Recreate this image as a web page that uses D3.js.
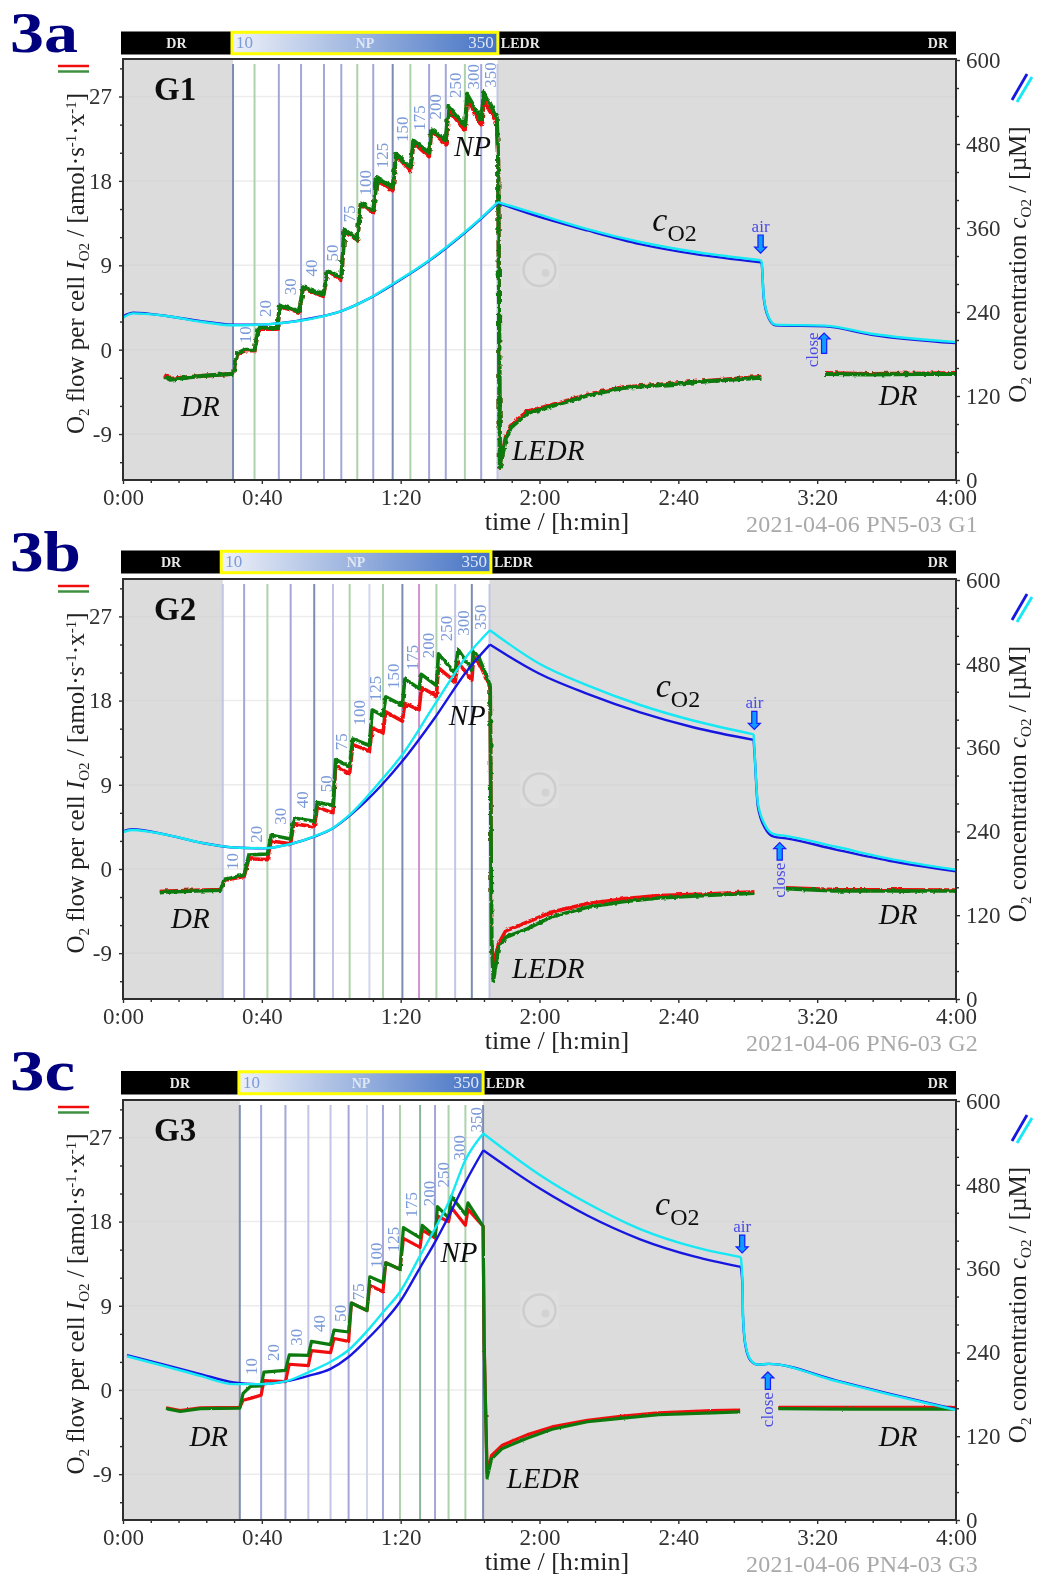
<!DOCTYPE html>
<html><head><meta charset="utf-8">
<script src="https://cdn.jsdelivr.net/npm/d3@7/dist/d3.min.js"></script>
<style>
html,body{margin:0;padding:0;background:#fff;width:1038px;height:1578px;overflow:hidden}
text{font-family:"Liberation Serif",serif}
</style></head><body>
<script>
// ---------- shared ticks ----------
const timeTicks=[0,40,80,120,160,200,240];
const timeMinor=[8,16,24,32,48,56,64,72,88,96,104,112,128,136,144,152,168,176,184,192,208,216,224,232];
const flowTicks=[-9,0,9,18,27];
const flowMinor=[-12,-6,-3,3,6,12,15,21,24,30];
const concTicks=[0,120,240,360,480,600];
const concMinor=[40,80,160,200,280,320,400,440,520,560];

// ---------- 3a / G1 ----------
const aFlowTime=[11.9,13.6,22.3,31,31.7,32.9,35,37.9,39.1,44.4,45.2,50.8,51.9,57.7,59,62.9,63.8,67.5,68.5,72.1,73.1,77.7,78.7,82.8,83.7,88.2,88.8,93,93.8,98.5,99.2,103.2,104,107.7,108.1,108.6,110.3,111.8,116.4,125.6,133.8,144,154.3,169.6,183.9,null,202.3,215,230,240];
const aGreen=[-2.9,-3.2,-2.8,-2.6,-2.6,-.4,0,0,2.3,2.3,4.7,4.1,6.65,5.9,8.45,7.7,12.8,11.8,15.6,14.9,18.3,17.3,20.9,19.4,22.3,21,23.5,22.4,26,23.9,27.2,24.6,27.4,24.8,20,-12.6,-9.5,-8.3,-6.8,-5.8,-4.9,-4.1,-3.8,-3.35,-3,null,-2.6,-2.65,-2.6,-2.6];
const aRed=[-2.7,-3.1,-2.8,-2.6,-2.6,-.5,-.1,-.1,2.2,2.2,4.6,4,6.6,5.7,8.4,7.4,12.7,11.7,15.5,14.6,18.1,16.9,20.8,19,22.1,20.6,23.4,21.9,25.6,23.4,26.6,24,26.5,24.2,20,-12.6,-9.3,-8.1,-6.6,-5.7,-4.8,-4,-3.75,-3.3,-2.9,null,-2.5,-2.6,-2.55,-2.5];
const aConcTime=[0,3,13,22.5,31.7,39.6,45.2,55.9,62.7,70.4,78,88.2,93,103.1,108,120,133.8,149,164.5,183.7,184,184.6,186,188,202.3,215.6,240];
const aBlue=[234,239,234,227,222,222,224,232.5,241,258,280,313,331,373,396,376,356.5,337,323,311,309,260,231.6,221,219.5,207.5,195.5];
const aCyan=[232,238,234,226,221,222,224,232,241,258,281,314,332,374,397,379,358.5,340,326,314,311,262,233,222,220.5,209,197];
const aEvents=[31.7,37.9,44.9,51.3,57.9,62.9,67.5,72.1,77.7,82.8,88.2,93,98.5,103.2,107.9];
const aEventKinds=["dark","green","blue","blue","blue","blue","green","blue","dark","green","blue","blue","green","blue","light"];
const aSteps=["10","20","30","40","50","75","100","125","150","175","200","250","300","350"];
const aStepT=[35.4,41.1,48.3,54.5,60.5,65.3,70.1,75,80.7,85.5,90.3,95.9,101,106];
const aStepV=[1.6,4.4,6.7,8.7,10.3,14.5,17.8,20.7,23.5,24.7,25.9,28.2,29.1,29.3];

// ---------- 3b / G2 ----------
const bFlowTime=[10.6,12.7,28.1,29.2,34.9,36.25,41.6,42.7,48.3,49.2,55.1,56,60.5,61.25,65.3,66.2,71,71.8,74.9,75.7,80.5,81.2,85.3,86,90.3,90.9,95.7,96.5,100.5,101,102.6,105.2,105.8,106.2,106.7,108.2,110.3,116.4,123.6,133.8,144,154.3,169.6,181.9,null,191,205,240];
const bGreen=[-2.55,-2.45,-2.27,-1.1,-.65,1.5,1.6,3.6,3.2,5.45,5.1,7.1,6.8,11.7,11,13.9,13.2,17,16.4,18.4,17.5,20.3,19.3,20.8,19.6,23,20.9,23.5,21.3,23.3,22.55,20.2,19.5,-8,-12,-8.4,-7.3,-6.4,-5.1,-4.1,-3.5,-3.1,-2.8,-2.6,null,-2.1,-2.35,-2.35];
const bRed=[-2.4,-2.35,-2.2,-1.2,-.8,1.1,1,3,2.7,4.85,4.5,6.6,6,11,10.2,13.3,12.6,15.1,14.5,16.8,15.8,17.7,17,19.4,18.5,21.5,20,22.1,20.2,22.6,22,20,19.2,-8,-10.2,-8,-6.6,-5.7,-4.6,-3.7,-3.2,-2.85,-2.65,-2.45,null,-2,-2.2,-2.25];
const bConcTime=[0,2.6,12.7,22.3,31.9,40.6,48.3,55.1,60.5,65.6,74.2,80.5,89.6,99.2,105.7,120,133.8,149,164.5,181.7,182,182.9,185,187.5,191,205.4,220.7,240];
const bBlue=[239.7,243,235,224,217,215.7,222,232.5,244.6,263.8,304.7,340.7,401,470.5,507.5,465.7,437,410.4,388.8,371,348,276,244.6,232.5,230,214,198,183];
const bCyan=[239,242,235,224,217,216,222,233,245,265,312,350,420,492,528,480,449,421,398.4,379,351,281,249,236,233.5,218,201,185];
const bEvents=[28.75,34.9,41.6,48.3,55.1,60.5,65.3,71,74.9,80.5,85.3,90.3,95.7,100.5,105.6];
const bEventKinds=["light","blue","green","blue","dark","light","green","pale","green","dark","magenta","green","light","dark","light"];
const bSteps=["10","20","30","40","50","75","100","125","150","175","200","250","300","350"];
const bStepT=[31.6,38.7,45.6,51.9,58.8,63,68.3,73,78.1,83.6,88.2,93.3,98.3,103.1];
const bStepV=[.8,3.7,5.65,7.4,9.1,13.6,16.7,19.3,20.6,22.6,23.9,25.7,26.3,26.9];

// ---------- 3c / G3 ----------
const cFlowTime=[12.4,16.5,22.3,33.65,34.6,36.7,39.8,40.6,46.8,47.9,53.4,54.3,59.8,60.8,65,65.8,70.3,71.1,74.9,75.7,79.8,80.8,85.6,86.25,89.9,90.6,93.8,94.6,98.65,99.4,103.75,104.05,104.9,106.2,109.3,116.4,123.6,133.8,144,154.3,169.6,177.8,null,188.8,210,240];
const cGreen=[-2,-2.3,-2,-1.95,-.37,.37,.44,1.9,2.1,3.75,3.7,5.2,4.85,6.4,6.2,9.3,8.5,12.1,11.5,13.6,12.9,17.35,16.25,17.6,16.4,19.6,18.4,20.7,18.75,20,17.5,5,-9.4,-7.35,-6.25,-5.15,-4.2,-3.4,-3,-2.65,-2.45,-2.35,null,-2,-2.05,-2.05];
const cRed=[-1.9,-2.2,-1.9,-1.85,-1.1,-.9,-.55,1,.9,2.75,2.6,4.2,4,5.5,5.2,9.3,8.5,11.2,10.5,13.6,12.9,16.2,15.25,17.1,16.25,18.6,18,19.5,17.6,19.3,17.5,5,-8.9,-7,-5.9,-4.8,-3.95,-3.25,-2.8,-2.45,-2.2,-2.15,null,-1.85,-1.85,-1.85];
const cConcTime=[1.15,12.7,22.3,31.9,39.6,46.8,53.4,59.8,65,70.3,74.9,79.8,85.6,89.9,93.8,98.65,103.8,120,133.8,149,164.5,178,178.5,178.6,179.3,180.8,182.9,186,205.4,220.7,240];
const cBlue=[236,221.5,209,197,194.5,198.5,206.5,216.5,233.5,258.5,282.5,312.5,361.5,398,434.5,483.5,529.5,475,436,402,377.5,362.5,333.5,294.5,250.5,228.5,222.5,223.5,200,181,158.5];
const cCyan=[234.5,219.5,206.5,194.5,194.5,198.5,211.5,226.5,243.5,270.5,297.5,326.5,378.5,417.5,454.5,515.5,553.5,494.5,453.5,416.5,391,376.5,338.5,296.5,252.5,229.5,222.5,223.5,199,180,157.5];
const cEvents=[33.65,39.8,46.8,53.4,59.8,65,70.3,74.9,79.8,85.6,89.9,93.8,98.65,103.75];
const cEventKinds=["dark","blue","blue","light","light","blue","pale","blue","green","darkgreen","blue","green","green","dark"];
const cSteps=["10","20","30","40","50","75","100","125","175","200","250","300","350"];
const cStepT=[37.2,43.5,50,56.7,62.9,68,73.1,78.1,83.4,88.4,92.5,97.1,101.9];
const cStepV=[2.5,4,5.65,7.1,8.2,10.5,14.4,16.1,19.8,21,23,25.9,28.9];

const panels=[
 {id:"3a",g:"G1",foot:"2021-04-06 PN5-03 G1",top:59,bottom:480,barTop:31.5,barBottom:54.5,labelY:52,idW:68,
  np:[31.4,108],t:aFlowTime,green:aGreen,red:aRed,ct:aConcTime,blue:aBlue,cyan:aCyan,ev:aEvents,kinds:aEventKinds,breaks:[14,19],
  steps:aSteps,stepT:aStepT,stepV:aStepV,noise:2.2,sw:4,
  dr1:[22.3,-7.1],npL:[100.7,20.7],ledr:[122.5,-11.8],dr2:[223.3,-5.9],co2:[158.9,356],
  air:[183.7,354,350,324],close:[202,210,181],closeText:[198.8,186]},
 {id:"3b",g:"G2",foot:"2021-04-06 PN6-03 G2",top:579,bottom:999,barTop:550.5,barBottom:573.5,labelY:571,idW:71,
  np:[28.3,106],t:bFlowTime,green:bGreen,red:bRed,ct:bConcTime,blue:bBlue,cyan:bCyan,ev:bEvents,kinds:bEventKinds,breaks:[14,19],
  steps:bSteps,stepT:bStepT,stepV:bStepV,noise:1.5,sw:3.6,
  dr1:[19.4,-6.3],npL:[99.2,15.4],ledr:[122.5,-11.7],dr2:[223.3,-5.9],co2:[159.9,433],
  air:[181.9,417,412,386],close:[189.2,224,199],closeText:[189.2,170]},
 {id:"3c",g:"G3",foot:"2021-04-06 PN4-03 G3",top:1100,bottom:1520,barTop:1071,barBottom:1094.5,labelY:1090,idW:65,
  np:[33.4,103.75],t:cFlowTime,green:cGreen,red:cRed,ct:cConcTime,blue:cBlue,cyan:cCyan,ev:cEvents,kinds:cEventKinds,breaks:[16,21],
  steps:cSteps,stepT:cStepT,stepV:cStepV,noise:.9,sw:3.2,
  dr1:[24.7,-6],npL:[96.8,13.7],ledr:[121,-10.5],dr2:[223.3,-6],co2:[159.7,437],
  air:[178.4,413,408,382.6],close:[185.8,212,187],closeText:[185.8,158]}
];
const kindColor={dark:"#7c8cb0",green:"#aed2ab",blue:"#a4a7d9",light:"#c3c5e6",pale:"#d4d6ee",magenta:"#cf93cf",darkgreen:"#8bb59a"};

const LEFT=123,RIGHT=956;
const svg=d3.select("body").append("svg").attr("width",1038).attr("height",1578).style("display","block");
const defs=svg.append("defs");
const soft=defs.append("filter").attr("id","soft").attr("x",0).attr("y",0).attr("width",1).attr("height",1);
soft.append("feGaussianBlur").attr("stdDeviation",0.55);
const grad=defs.append("linearGradient").attr("id","npGrad");
grad.append("stop").attr("offset","0%").attr("stop-color","#eef1f8");
grad.append("stop").attr("offset","100%").attr("stop-color","#4472c4");
panels.forEach((p,i)=>{
  const f=defs.append("filter").attr("id","noise"+i).attr("filterUnits","userSpaceOnUse")
    .attr("x",0).attr("y",p.top-10).attr("width",1038).attr("height",p.bottom-p.top+20);
  f.append("feTurbulence").attr("type","fractalNoise").attr("baseFrequency",0.22).attr("numOctaves",2).attr("seed",3+i).attr("result","n");
  f.append("feDisplacementMap").attr("in","SourceGraphic").attr("in2","n").attr("scale",p.noise*2).attr("xChannelSelector","R").attr("yChannelSelector","G");
});
const root=svg.append("g").attr("filter","url(#soft)");
root.append("rect").attr("width",1038).attr("height",1578).attr("fill","#fff");

const x=d3.scaleLinear().domain([0,240]).range([LEFT,RIGHT]);
const fmt=m=>Math.floor(m/60)+":"+String(m%60).padStart(2,"0");
const DARK="#2f2f2f";

panels.forEach((p,i)=>{
  const g=root.append("g");
  const yF=d3.scaleLinear().domain([-13.9,31]).range([p.bottom,p.top]);
  const yC=d3.scaleLinear().domain([0,600]).range([p.bottom,p.top+1]);

  // panel id
  g.append("text").attr("x",10).attr("y",p.labelY).attr("font-size",58).attr("font-weight","bold").attr("fill","#00007f")
    .attr("textLength",p.idW).attr("lengthAdjust","spacingAndGlyphs").text(p.id);

  // protocol bar
  g.append("rect").attr("x",121).attr("y",p.barTop).attr("width",RIGHT-121).attr("height",p.barBottom-p.barTop).attr("fill","#000");
  g.append("rect").attr("x",x(p.np[0])).attr("y",p.barTop+.8).attr("width",x(p.np[1])-x(p.np[0])).attr("height",p.barBottom-p.barTop-1.6)
    .attr("fill","url(#npGrad)").attr("stroke","#ffff00").attr("stroke-width",3);
  const barMid=(p.barTop+p.barBottom)/2+5;
  const barTxt=(xx,t,c,a,w)=>g.append("text").attr("x",xx).attr("y",barMid).attr("font-size",w?14:17).attr("font-weight",w?"bold":"normal").attr("fill",c).attr("text-anchor",a).text(t);
  barTxt((121+x(p.np[0]))/2,"DR","#e8e8e8","middle",1);
  barTxt(x(p.np[0])+4,"10","#7c9bd8","start");
  barTxt((x(p.np[0])+x(p.np[1]))/2,"NP","#dfe6f5","middle",1);
  barTxt(x(p.np[1])-4,"350","#dfe6f5","end");
  barTxt(x(p.np[1])+3,"LEDR","#e8e8e8","start",1);
  barTxt(RIGHT-8,"DR","#e8e8e8","end",1);

  // plot background
  g.append("rect").attr("x",LEFT).attr("y",p.top).attr("width",RIGHT-LEFT).attr("height",p.bottom-p.top).attr("fill","#dcdcdc");
  g.append("rect").attr("x",x(p.ev[0])).attr("y",p.top).attr("width",x(p.ev[p.ev.length-1])-x(p.ev[0])).attr("height",p.bottom-p.top).attr("fill","#fff");

  // grid
  g.selectAll(".gl").data(flowTicks).join("line").attr("x1",LEFT).attr("x2",RIGHT).attr("y1",d=>yF(d)).attr("y2",d=>yF(d))
    .attr("stroke","#cfcfcf").attr("stroke-opacity",.4).attr("stroke-width",1.5);

  // watermark
  const wx=x(120),wy=yF(8.5);
  g.append("rect").attr("x",wx-19).attr("y",wy-19).attr("width",38).attr("height",38).attr("fill","#dfdfdf");
  g.append("circle").attr("cx",wx).attr("cy",wy).attr("r",16).attr("fill","none").attr("stroke","#cdcdcd").attr("stroke-width",2.5);
  g.append("circle").attr("cx",wx+6).attr("cy",wy+3).attr("r",4).attr("fill","#d2d2d2");

  // event lines
  g.selectAll(".ev").data(p.ev).join("line").attr("x1",d=>x(d)).attr("x2",d=>x(d)).attr("y1",p.top+5).attr("y2",p.bottom)
    .attr("stroke",(d,k)=>kindColor[p.kinds[k]]).attr("stroke-width",2);

  // step labels
  g.selectAll(".st").data(p.steps).join("text")
    .attr("transform",(d,k)=>`translate(${x(p.stepT[k])+5},${yF(p.stepV[k])}) rotate(-90)`)
    .attr("text-anchor","middle").attr("font-size",17).attr("fill","#7c9bd8").text(d=>d);

  // flow traces
  const lineF=d3.line().defined(d=>d[0]!==null).x(d=>x(d[0])).y(d=>yF(d[1]));
  const fg=g.append("g").attr("filter",`url(#noise${i})`).attr("fill","none").attr("stroke-linejoin","round");
  fg.append("path").attr("d",lineF(d3.zip(p.t,p.red))).attr("stroke","#f01010").attr("stroke-width",p.sw);
  fg.append("path").attr("d",lineF(d3.zip(p.t,p.green))).attr("stroke","#0b7a0b").attr("stroke-width",p.sw);

  // concentration traces: each phase is smoothed on its own so the corners stay sharp
  const lineC=d3.line().curve(d3.curveMonotoneX).x(d=>x(d[0])).y(d=>yC(d[1]));
  const phases=[[0,p.breaks[0]+1],[p.breaks[0],p.breaks[1]+1],[p.breaks[1],p.ct.length]];
  const drawConc=(vals,col)=>{
    const pts=d3.zip(p.ct,vals);
    const path=phases.map(([a,b])=>lineC(pts.slice(a,b))).join("");
    g.append("path").attr("d",path).attr("fill","none").attr("stroke",col).attr("stroke-width",2.4).attr("stroke-linejoin","round");
  };
  drawConc(p.blue,"#1818e0");
  drawConc(p.cyan,"#12e8f4");

  // arrows
  const arrow=(t,c0,c1)=>{
    const X=x(t),Y0=yC(c0),Y1=yC(c1),dir=Y1>Y0?1:-1,hw=6,sw=2.6,hl=6;
    const pts=[[X-sw,Y0],[X+sw,Y0],[X+sw,Y1-dir*hl],[X+hw,Y1-dir*hl],[X,Y1],[X-hw,Y1-dir*hl],[X-sw,Y1-dir*hl]];
    g.append("path").attr("d",d3.line()(pts)+"Z").attr("fill","#0a9cff").attr("stroke","#1a1aff").attr("stroke-width",1.2);
  };
  arrow(p.air[0],p.air[2],p.air[3]);
  arrow(p.close[0],p.close[2],p.close[1]);
  g.append("text").attr("x",x(p.air[0])).attr("y",yC(p.air[1])).attr("text-anchor","middle").attr("font-size",17).attr("fill","#4a4ae6").text("air");
  g.append("text").attr("transform",`translate(${x(p.closeText[0])+5},${yC(p.closeText[1])}) rotate(-90)`).attr("text-anchor","middle").attr("font-size",17).attr("fill","#4a4ae6").text("close");

  // frame
  g.append("rect").attr("x",LEFT).attr("y",p.top).attr("width",RIGHT-LEFT).attr("height",p.bottom-p.top).attr("fill","none").attr("stroke",DARK).attr("stroke-width",2);

  // axes
  const styleAxis=(a)=>{a.select(".domain").remove();a.selectAll("line").attr("stroke",DARK).attr("stroke-width",1.4);
    a.selectAll("text").attr("font-size",23).attr("fill","#333").style("font-family",'"Liberation Serif",serif');};
  const minor=(axis,vals,sel)=>{const a=g.append("g").attr("transform",sel).call(axis.tickValues(vals).tickSize(3).tickFormat(""));styleAxis(a);};
  const ax=g.append("g").attr("transform",`translate(0,${p.bottom})`).call(d3.axisBottom(x).tickValues(timeTicks).tickSize(4).tickPadding(5).tickFormat(fmt));
  styleAxis(ax);
  minor(d3.axisBottom(x),timeMinor,`translate(0,${p.bottom})`);
  const ayF=g.append("g").attr("transform",`translate(${LEFT},0)`).call(d3.axisLeft(yF).tickValues(flowTicks).tickSize(4).tickPadding(7).tickFormat(d=>String(d)));
  styleAxis(ayF);
  minor(d3.axisLeft(yF),flowMinor,`translate(${LEFT},0)`);
  const ayC=g.append("g").attr("transform",`translate(${RIGHT},0)`).call(d3.axisRight(yC).tickValues(concTicks).tickSize(4).tickPadding(6).tickFormat(d=>String(d)));
  styleAxis(ayC);
  minor(d3.axisRight(yC),concMinor,`translate(${RIGHT},0)`);

  // axis titles
  const mid=(p.top+p.bottom)/2;
  const lt=g.append("text").attr("transform",`translate(84,${mid-6}) rotate(-90)`).attr("text-anchor","middle").attr("font-size",25).attr("fill","#222");
  lt.append("tspan").text("O");
  lt.append("tspan").attr("font-size",15).attr("dy",5).text("2");
  lt.append("tspan").attr("dy",-5).text(" flow per cell ");
  lt.append("tspan").attr("font-style","italic").text("I");
  lt.append("tspan").attr("font-size",15).attr("dy",5).text("O2");
  lt.append("tspan").attr("dy",-5).text(" / [amol·s");
  lt.append("tspan").attr("font-size",15).attr("dy",-8).text("-1");
  lt.append("tspan").attr("dy",8).text("·x");
  lt.append("tspan").attr("font-size",15).attr("dy",-8).text("-1");
  lt.append("tspan").attr("dy",8).text("]");
  const rt=g.append("text").attr("transform",`translate(1026,${mid-5}) rotate(-90)`).attr("text-anchor","middle").attr("font-size",25).attr("fill","#222");
  rt.append("tspan").text("O");
  rt.append("tspan").attr("font-size",15).attr("dy",5).text("2");
  rt.append("tspan").attr("dy",-5).text(" concentration ");
  rt.append("tspan").attr("font-style","italic").text("c");
  rt.append("tspan").attr("font-size",15).attr("dy",5).text("O2");
  rt.append("tspan").attr("dy",-5).text(" / [µM]");
  g.append("text").attr("x",557).attr("y",p.bottom+50).attr("text-anchor","middle").attr("font-size",26).attr("fill","#222").text("time / [h:min]");
  g.append("text").attr("x",978).attr("y",p.bottom+52).attr("text-anchor","end").attr("font-size",24).attr("letter-spacing",.2).attr("fill","#a9a9a9").text(p.foot);

  // annotations
  const lab=(pos,t)=>g.append("text").attr("x",x(pos[0])).attr("y",yF(pos[1])).attr("text-anchor","middle").attr("font-size",29).attr("font-style","italic").attr("fill","#111").text(t);
  g.append("text").attr("x",154).attr("y",p.top+41).attr("font-size",33).attr("font-weight","bold").attr("fill","#111").text(p.g);
  lab(p.dr1,"DR");lab(p.npL,"NP");lab(p.ledr,"LEDR");lab(p.dr2,"DR");
  const co=g.append("text").attr("x",x(p.co2[0])).attr("y",yC(p.co2[1])).attr("text-anchor","middle").attr("font-size",34).attr("fill","#111");
  co.append("tspan").attr("font-style","italic").text("c");
  co.append("tspan").attr("font-size",24).attr("dy",10).text("O2");

  // series keys
  g.append("line").attr("x1",58).attr("x2",89).attr("y1",p.top+7).attr("y2",p.top+7).attr("stroke","#f01010").attr("stroke-width",2.5);
  g.append("line").attr("x1",58).attr("x2",89).attr("y1",p.top+12.5).attr("y2",p.top+12.5).attr("stroke","#3f8f3f").attr("stroke-width",2.5);
  g.append("line").attr("x1",1012).attr("x2",1027).attr("y1",p.top+41).attr("y2",p.top+15).attr("stroke","#1818e0").attr("stroke-width",2.8);
  g.append("line").attr("x1",1017).attr("x2",1032).attr("y1",p.top+43).attr("y2",p.top+18).attr("stroke","#12e8f4").attr("stroke-width",2.8);
});
</script>
</body></html>
